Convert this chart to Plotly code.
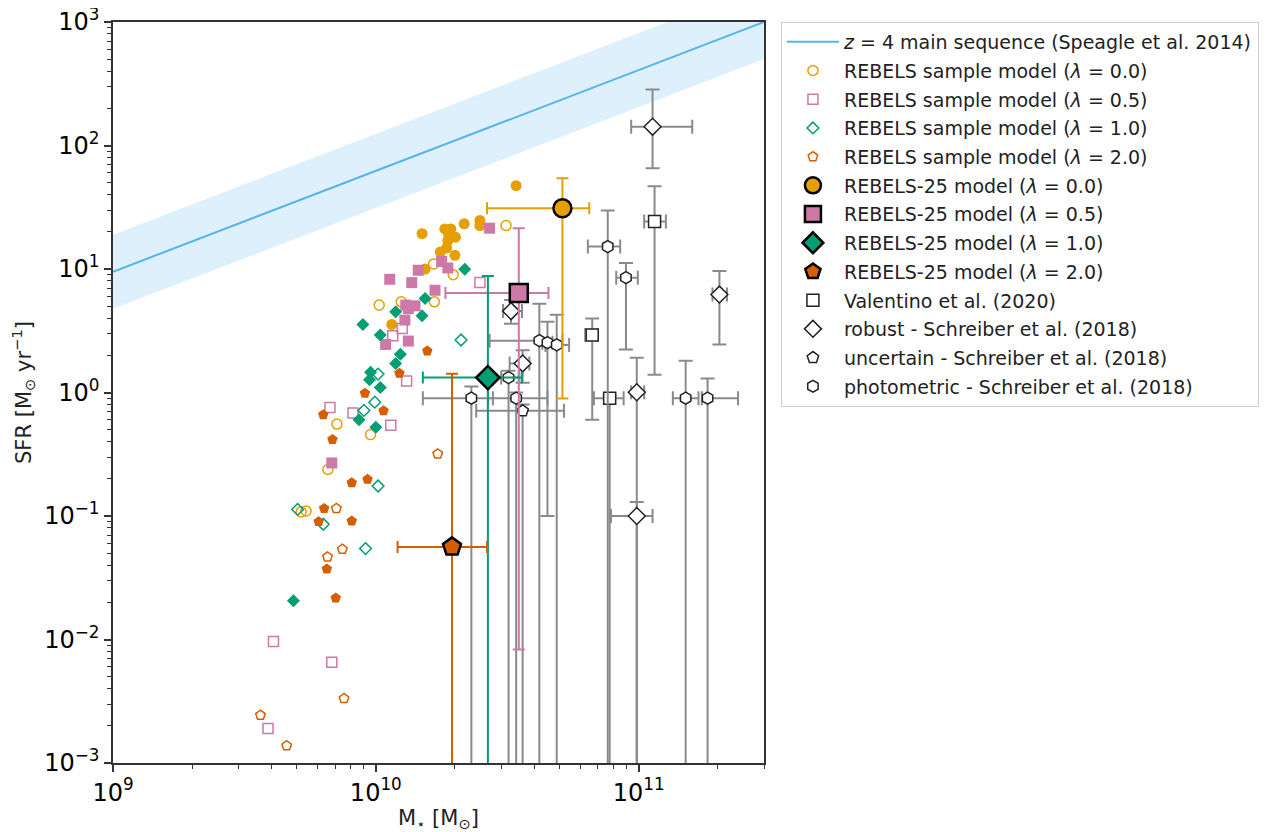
import math
import plotly.graph_objects as go

# z = 4 main sequence, read at the edges of the plot
MS_MASS = [1e9, 3e11]
MS_SFR = [9.5, 1000.0]
MS_SCATTER_DEX = 0.3

LAMBDAS = ["0.0", "0.5", "1.0", "2.0"]

# REBELS sample model, open markers (legend) and filled markers
L00_OPEN_MASS = [3.13e10, 1.66e10, 1.97e10, 1.03e10, 1.25e10, 1.67e10, 0.711e10, 0.955e10, 0.657e10, 0.520e10, 0.543e10]
L00_OPEN_SFR = [22.5, 11.0, 9.0, 5.10, 5.42, 5.42, 0.555, 0.456, 0.238, 0.108, 0.110]
L00_FILL_MASS = [3.42e10, 2.49e10, 2.49e10, 2.17e10, 1.50e10, 1.83e10, 1.93e10, 1.89e10, 2.01e10, 1.88e10, 1.86e10, 1.76e10, 2.00e10, 1.54e10, 1.15e10]
L00_FILL_SFR = [47.3, 24.7, 22.5, 23.2, 19.3, 21.1, 21.1, 19.3, 18.1, 17.0, 14.8, 13.7, 12.9, 10.0, 3.56]

L05_OPEN_MASS = [2.49e10, 1.26e10, 1.16e10, 1.31e10, 0.669e10, 0.819e10, 1.14e10, 0.408e10, 0.680e10, 0.389e10]
L05_OPEN_SFR = [7.76, 3.30, 2.88, 1.24, 0.757, 0.681, 0.542, 0.00964, 0.00653, 0.00190]
L05_FILL_MASS = [2.71e10, 1.78e10, 1.88e10, 1.45e10, 1.13e10, 1.37e10, 1.68e10, 1.30e10, 1.41e10, 1.33e10, 1.29e10, 1.33e10, 1.09e10, 0.680e10]
L05_FILL_SFR = [21.4, 11.5, 10.2, 9.77, 8.26, 7.76, 6.73, 5.10, 5.03, 4.79, 3.86, 2.61, 2.45, 0.269]

L10_OPEN_MASS = [2.11e10, 1.02e10, 0.991e10, 0.901e10, 1.02e10, 0.504e10, 0.631e10, 0.914e10]
L10_OPEN_SFR = [2.66, 1.41, 0.835, 0.716, 0.175, 0.113, 0.0857, 0.0545]
L10_FILL_MASS = [2.18e10, 1.54e10, 1.19e10, 1.50e10, 0.893e10, 1.04e10, 1.24e10, 1.19e10, 0.955e10, 0.947e10, 1.04e10, 0.863e10, 1.00e10, 0.486e10]
L10_FILL_SFR = [9.95, 5.76, 4.50, 4.18, 3.56, 2.92, 2.04, 1.72, 1.46, 1.27, 1.10, 0.602, 0.522, 0.0206]

L20_OPEN_MASS = [1.72e10, 0.708e10, 0.746e10, 0.655e10, 0.757e10, 0.364e10, 0.458e10]
L20_OPEN_SFR = [0.318, 0.115, 0.0538, 0.0467, 0.00333, 0.00244, 0.00138]
L20_FILL_MASS = [1.57e10, 1.23e10, 0.909e10, 1.07e10, 0.631e10, 0.684e10, 0.810e10, 0.930e10, 0.636e10, 0.606e10, 0.810e10, 0.651e10, 0.704e10]
L20_FILL_SFR = [2.17, 1.43, 0.987, 0.711, 0.661, 0.416, 0.186, 0.198, 0.115, 0.0900, 0.0912, 0.0372, 0.0217]

# REBELS-25 model (lower SFR limits of 1e-4 run off the bottom of the axis)
R25_MASS = [5.13e10, 3.50e10, 2.67e10, 1.95e10]
R25_MASS_LO = [2.65e10, 1.84e10, 1.51e10, 1.21e10]
R25_MASS_HI = [6.49e10, 4.54e10, 3.59e10, 2.65e10]
R25_SFR = [31.0, 6.40, 1.32, 0.0562]
R25_SFR_LO = [0.895, 0.0083, 1e-4, 1e-4]
R25_SFR_HI = [54.2, 21.4, 8.78, 1.42]

# Valentino et al. (2020)
VAL_MASS = [11.5e10, 6.66e10, 7.76e10]
VAL_MASS_LO = [10.5e10, 6.26e10, 6.76e10]
VAL_MASS_HI = [12.7e10, 6.95e10, 8.77e10]
VAL_SFR = [24.2, 2.92, 0.899]
VAL_SFR_LO = [1.39, 0.602, 1e-4]
VAL_SFR_HI = [46.7, 3.97, 0.95]

# Schreiber et al. (2018), robust
ROB_MASS = [11.3e10, 20.3e10, 9.84e10, 9.84e10, 3.27e10, 3.62e10]
ROB_MASS_LO = [9.37e10, 19.1e10, 9.37e10, 7.85e10, 3.05e10, 3.23e10]
ROB_MASS_HI = [16.0e10, 21.7e10, 10.5e10, 11.3e10, 3.60e10, 3.84e10]
ROB_SFR = [142.0, 6.21, 1.005, 0.100, 4.56, 1.72]
ROB_SFR_LO = [65.3, 2.45, 1e-4, 1e-4, 3.6, 1.2]
ROB_SFR_HI = [284.0, 9.63, 1.91, 0.13, 5.6, 2.2]

# Schreiber et al. (2018), uncertain
UNC_MASS = [3.62e10]
UNC_MASS_LO = [2.41e10]
UNC_MASS_HI = [5.20e10]
UNC_SFR = [0.711]
UNC_SFR_LO = [1e-4]
UNC_SFR_HI = [0.80]

# Schreiber et al. (2018), photometric
PHO_MASS = [7.63e10, 8.95e10, 15.1e10, 18.3e10, 2.31e10, 3.42e10, 3.20e10, 4.19e10, 4.50e10, 4.88e10]
PHO_MASS_LO = [6.41e10, 8.22e10, 13.5e10, 17.4e10, 1.51e10, 2.67e10, 3.00e10, 2.71e10, 4.30e10, 4.42e10]
PHO_MASS_HI = [8.51e10, 9.93e10, 16.9e10, 23.9e10, 2.79e10, 4.50e10, 3.50e10, 5.13e10, 4.70e10, 5.44e10]
PHO_SFR = [15.2, 8.51, 0.899, 0.899, 0.899, 0.899, 1.32, 2.63, 2.53, 2.43]
PHO_SFR_LO = [1e-4, 2.23, 1e-4, 1e-4, 1e-4, 1e-4, 1e-4, 1e-4, 0.100, 1e-4]
PHO_SFR_HI = [29.7, 11.2, 1.81, 1.30, 1.12, 1.0, 1.5, 5.22, 3.74, 4.26]

COLORS = ["#E69F00", "#CC79A7", "#009E73", "#D55E00"]
SYMBOLS = ["circle", "square", "diamond", "pentagon"]
BLUE = "#56B4E9"
GRAY = "#8a8a8a"
FONT = "DejaVu Sans"


def errs(val, lo, hi, color, cap, width=2):
    return dict(type="data", symmetric=False,
                array=[h - v for v, h in zip(val, hi)],
                arrayminus=[v - l for v, l in zip(val, lo)],
                color=color, thickness=width, width=cap)


fig = go.Figure()

# --- main sequence band + line ---
ms_hi = [s * 10 ** MS_SCATTER_DEX for s in MS_SFR]
ms_lo = [s / 10 ** MS_SCATTER_DEX for s in MS_SFR]
fig.add_trace(go.Scatter(x=MS_MASS, y=ms_hi, mode="lines", line=dict(width=0),
                         showlegend=False, hoverinfo="skip"))
fig.add_trace(go.Scatter(x=MS_MASS, y=ms_lo, mode="lines", line=dict(width=0),
                         fill="tonexty", fillcolor="rgba(86,180,233,0.2)",
                         showlegend=False, hoverinfo="skip"))
fig.add_trace(go.Scatter(x=MS_MASS, y=MS_SFR, mode="lines",
                         line=dict(color=BLUE, width=2),
                         name="<i>z</i> = 4 main sequence (Speagle et al. 2014)",
                         legendgroup="ms", legendrank=1))

# --- REBELS sample model ---
sample_open = [(L00_OPEN_MASS, L00_OPEN_SFR), (L05_OPEN_MASS, L05_OPEN_SFR),
               (L10_OPEN_MASS, L10_OPEN_SFR), (L20_OPEN_MASS, L20_OPEN_SFR)]
sample_fill = [(L00_FILL_MASS, L00_FILL_SFR), (L05_FILL_MASS, L05_FILL_SFR),
               (L10_FILL_MASS, L10_FILL_SFR), (L20_FILL_MASS, L20_FILL_SFR)]
sizes = [10, 10, 9, 10]
for i, lam in enumerate(LAMBDAS):
    m, s = sample_fill[i]
    fig.add_trace(go.Scatter(x=m, y=s, mode="markers", showlegend=False,
                             marker=dict(symbol=SYMBOLS[i], size=sizes[i] + 1,
                                         color=COLORS[i], line=dict(width=0))))
    m, s = sample_open[i]
    fig.add_trace(go.Scatter(x=m, y=s, mode="markers",
                             name=f"REBELS sample model (<i>λ</i> = {lam})",
                             legendgroup=f"s{i}", legendrank=2 + i,
                             marker=dict(symbol=SYMBOLS[i] + "-open", size=sizes[i],
                                         color=COLORS[i], line=dict(width=1.5))))

# --- literature comparison samples ---
lit = [
    ("Valentino et al. (2020)", "square", 12, VAL_MASS, VAL_MASS_LO, VAL_MASS_HI, VAL_SFR, VAL_SFR_LO, VAL_SFR_HI),
    ("robust - Schreiber et al. (2018)", "diamond", 13, ROB_MASS, ROB_MASS_LO, ROB_MASS_HI, ROB_SFR, ROB_SFR_LO, ROB_SFR_HI),
    ("uncertain - Schreiber et al. (2018)", "pentagon", 12, UNC_MASS, UNC_MASS_LO, UNC_MASS_HI, UNC_SFR, UNC_SFR_LO, UNC_SFR_HI),
    ("photometric - Schreiber et al. (2018)", "hexagon", 12, PHO_MASS, PHO_MASS_LO, PHO_MASS_HI, PHO_SFR, PHO_SFR_LO, PHO_SFR_HI),
]
for k, (name, sym, size, m, mlo, mhi, s, slo, shi) in enumerate(lit):
    fig.add_trace(go.Scatter(
        x=m, y=s, mode="markers", name=name,
        legendgroup=f"l{k}", legendrank=10 + k,
        marker=dict(symbol=sym, size=size, color="white",
                    line=dict(color="#222222", width=1.5)),
        error_x=errs(m, mlo, mhi, GRAY, 7),
        error_y=errs(s, slo, shi, GRAY, 7),
    ))

# --- REBELS-25 model ---
r25_sizes = [18, 18, 18, 19]
for i, lam in enumerate(LAMBDAS):
    fig.add_trace(go.Scatter(
        x=[R25_MASS[i]], y=[R25_SFR[i]], mode="markers",
        name=f"REBELS-25 model (<i>λ</i> = {lam})",
        legendgroup=f"r{i}", legendrank=6 + i,
        marker=dict(symbol=SYMBOLS[i], size=r25_sizes[i], color=COLORS[i],
                    line=dict(color="black", width=2.5)),
        error_x=errs([R25_MASS[i]], [R25_MASS_LO[i]], [R25_MASS_HI[i]], COLORS[i], 6),
        error_y=errs([R25_SFR[i]], [R25_SFR_LO[i]], [R25_SFR_HI[i]], COLORS[i], 6),
    ))

# --- axes ---
def minor_vals(lo, hi):
    return [k * 10 ** d for d in range(lo, hi) for k in range(2, 10)]


sup = lambda e: f"10<sup>{e}</sup>".replace("-", "−")
axis_common = dict(type="log", showgrid=False, zeroline=False, showline=True,
                   linecolor="#333333", linewidth=1.5, mirror=True, automargin=False,
                   ticks="outside", ticklen=7, tickwidth=1.5, tickcolor="#333333",
                   ticklabeloverflow="allow",
                   tickfont=dict(family=FONT, size=24, color="black"),
                   title_font=dict(family=FONT, size=21, color="#222222"))

fig.update_xaxes(**axis_common, range=[9, math.log10(3e11)],
                 tickvals=[1e9, 1e10, 1e11], ticktext=[sup(9), sup(10), sup(11)],
                 minor=dict(tickvals=minor_vals(9, 12), ticks="outside", ticklen=4,
                            tickwidth=1, tickcolor="#333333"),
                 title_text="M<sub>⋆</sub> [M<sub>⊙</sub>]", title_standoff=4)
fig.update_yaxes(**axis_common, range=[-3, 3],
                 tickvals=[10.0 ** e for e in range(-3, 4)],
                 ticktext=[sup(e) for e in range(-3, 4)],
                 minor=dict(tickvals=minor_vals(-3, 3), ticks="outside", ticklen=4,
                            tickwidth=1, tickcolor="#333333"),
                 title_text="SFR [M<sub>⊙</sub> yr<sup>−1</sup>]", title_standoff=10)

# the page adds an 8 px body margin, so the figure is drawn 8 px smaller
fig.update_layout(
    width=1263, height=824,
    margin=dict(l=105, r=502, t=14, b=69),
    plot_bgcolor="white", paper_bgcolor="white",
    font=dict(family=FONT, color="#222222"),
    legend=dict(x=1.026, y=1.0, xanchor="left", yanchor="top",
                bgcolor="white", bordercolor="#cccccc", borderwidth=1,
                font=dict(family=FONT, size=19, color="#222222"),
                tracegroupgap=1, itemsizing="trace", itemwidth=52),
)

fig.write_html("out.html")
